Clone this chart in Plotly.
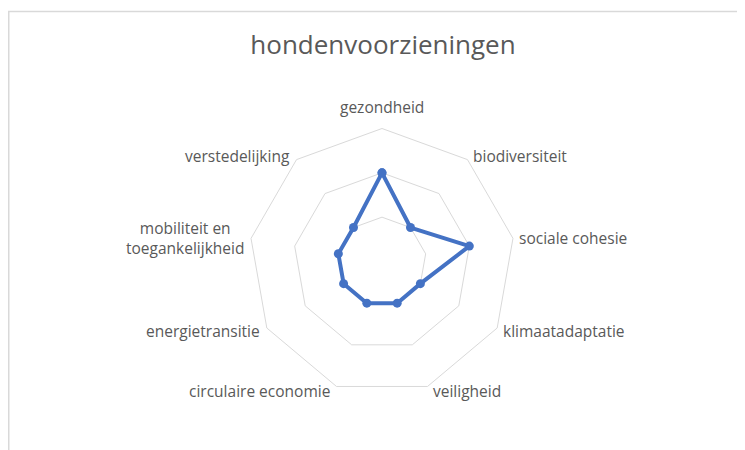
import math
import plotly.graph_objects as go

categories = ["gezondheid", "biodiversiteit", "sociale cohesie", "klimaatadaptatie",
              "veiligheid", "circulaire economie", "energietransitie",
              "mobiliteit en<br>toegankelijkheid", "verstedelijking"]
values = [2, 1, 2, 1, 1, 1, 1, 1, 1]
radial_ticks = [0, 1, 2, 3]
title_text = "hondenvoorzieningen"

W, H = 745, 450
cx, cy, R = 374, 253.5, 133

fig = go.Figure()
fig.add_trace(go.Scatterpolar(
    r=values + values[:1],
    theta=categories + categories[:1],
    mode="lines+markers",
    line=dict(color="#4472C4", width=4),
    marker=dict(color="#4472C4", size=9),
    showlegend=False,
    hoverinfo="skip",
))

annotations = []
n = len(categories)
for i, cat in enumerate(categories):
    ang = math.radians(90 - 360 * i / n)
    c, s = math.cos(ang), math.sin(ang)
    vx = cx + R * c
    vy = cy - R * s
    if abs(c) < 0.1:
        xa, px, py = "center", vx, vy - 22
    elif c > 0:
        xa, px, py = "left", vx + 4, vy - 5 * s
    else:
        xa, px, py = "right", vx - 5, vy - 5 * s
    annotations.append(dict(text=cat, xref="paper", yref="paper",
                            x=px / W, y=1 - py / H, xanchor=xa, yanchor="middle",
                            showarrow=False, align="center",
                            font=dict(family="Open Sans", size=15.5, color="#595959")))

fig.update_layout(
    width=W, height=H,
    margin=dict(l=0, r=0, t=0, b=0),
    paper_bgcolor="white",
    title=dict(text=title_text, x=375 / W, xanchor="center", y=1 - 37 / H, yanchor="middle",
               font=dict(family="Open Sans", size=26, color="#595959")),
    polar=dict(
        domain=dict(x=[(cx - R) / W, (cx + R) / W], y=[(H - cy - R) / H, (H - cy + R) / H]),
        bgcolor="white",
        gridshape="linear",
        radialaxis=dict(range=[radial_ticks[0], radial_ticks[-1]], tickvals=radial_ticks[1:],
                        showticklabels=False, ticks="", showline=False,
                        gridcolor="#D9D9D9", gridwidth=1),
        angularaxis=dict(rotation=90, direction="clockwise", showgrid=False,
                         showline=True, linecolor="#D9D9D9", linewidth=1, ticks="",
                         showticklabels=False),
    ),
    annotations=annotations,
    shapes=[dict(type="rect", xref="paper", yref="paper",
                 x0=0.75 / W, x1=1.05, y0=-0.05, y1=1 - 3.5 / H,
                 line=dict(color="#D9D9D9", width=1.5), fillcolor="rgba(0,0,0,0)", layer="below")],
)

fig.write_html("out.html")
